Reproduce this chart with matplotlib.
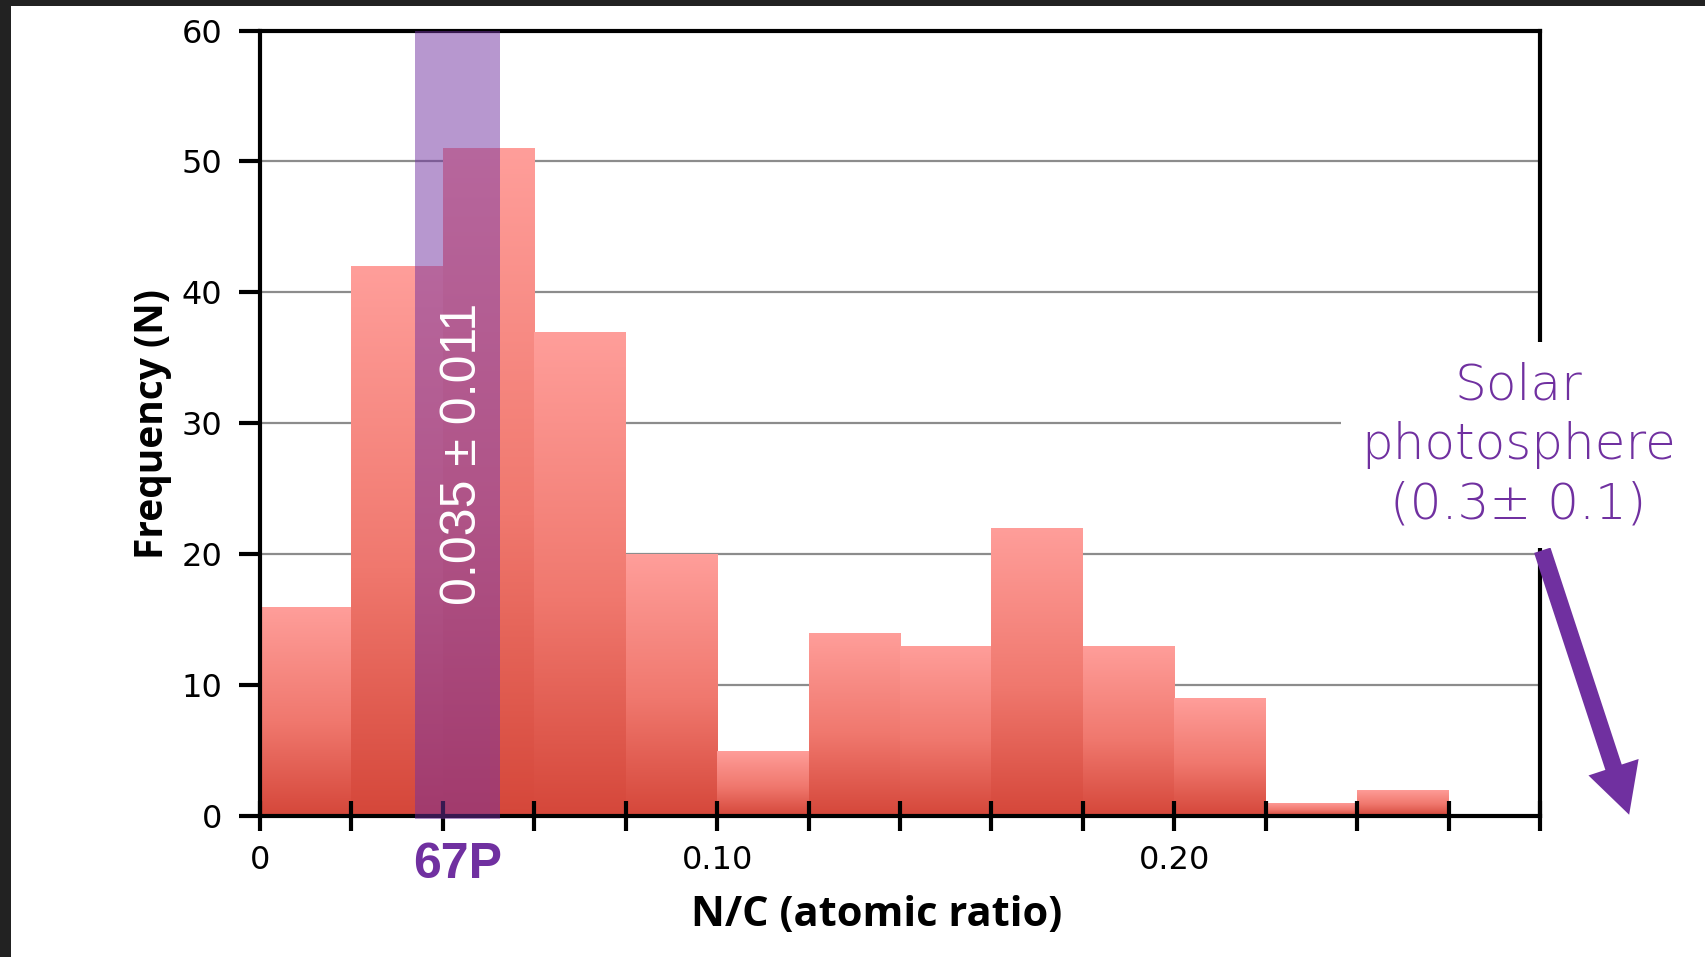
import numpy as np
import matplotlib
matplotlib.use("Agg")
import matplotlib.pyplot as plt
from matplotlib.colors import LinearSegmentedColormap
from matplotlib.patches import Rectangle

# ---- data ----
bin_edges = [0.00, 0.02, 0.04, 0.06, 0.08, 0.10, 0.12, 0.14, 0.16, 0.18, 0.20, 0.22, 0.24, 0.26, 0.28]
counts = [16, 42, 51, 37, 20, 5, 14, 13, 22, 13, 9, 1, 2, 0]
xtick_labels = {0.0: "0", 0.10: "0.10", 0.20: "0.20"}
yticks = [0, 10, 20, 30, 40, 50, 60]
band_lo, band_hi = 0.034, 0.0525          # 67P shaded band
band_text = "0.035 \u00b1 0.011"
band_label = "67P"
solar_text = "Solar\nphotosphere\n(0.3\u00b1 0.1)"
arrow_start = (0.2805, 20.3)
arrow_end = (0.2995, 0.1)

PURPLE = "#7030A0"

fig = plt.figure(figsize=(17.06, 9.57), dpi=100)
fig.patch.set_facecolor("#222222")
fig.patches.append(Rectangle((11 / 1706, 0), 1, 1 - 6 / 957, transform=fig.transFigure,
                             fc="white", ec="none", zorder=-10))

ax = fig.add_axes([0.1524, 0.1473, 0.7503, 0.8208])
ax.set_facecolor("none")

# gridlines
for y in yticks[1:-1]:
    ax.axhline(y, color="#8C8C8C", lw=1.6, zorder=0.5)

# bars with vertical gradient
cmap = LinearSegmentedColormap.from_list(
    "bar", [(0.0, "#D5473A"), (0.45, "#F0786E"), (1.0, "#FF9E9A")])
grad = np.linspace(0, 1, 256).reshape(-1, 1)
lefts = np.array(bin_edges[:-1])
widths = np.diff(bin_edges)
bars = ax.bar(lefts, counts, width=widths, align="edge", facecolor="none",
              edgecolor="none", zorder=1)
for b, c in zip(bars, counts):
    if c <= 0:
        continue
    x0, w, h = b.get_x(), b.get_width(), b.get_height()
    im = ax.imshow(grad, cmap=cmap, origin="lower", aspect="auto",
                   extent=[x0, x0 + w, 0, h], zorder=1, interpolation="bilinear")
    im.set_clip_path(b)

# 67P band
ax.axvspan(band_lo, band_hi, ymin=-0.004, ymax=1.0, color=PURPLE, alpha=0.5,
           lw=0, zorder=3, clip_on=False)
ax.text((band_lo + band_hi) / 2 + 0.0012, 27.7, band_text, rotation=90, color="white",
        ha="center", va="center", fontsize=36, family=["Liberation Sans", "DejaVu Sans"],
        zorder=4)

ax.set_xlim(bin_edges[0], bin_edges[-1])
ax.set_ylim(0, 60)

# spines
for s in ax.spines.values():
    s.set_linewidth(3)
    s.set_color("black")
    s.set_zorder(2.5)

# ticks
ax.set_xticks(bin_edges)
ax.set_xticklabels([xtick_labels.get(round(e, 2), "") for e in bin_edges])
ax.set_yticks(yticks)
ax.set_yticklabels([str(v) for v in yticks])
ax.tick_params(axis="x", direction="inout", length=22, width=3, pad=10, labelsize=23)
ax.tick_params(axis="y", direction="out", length=15, width=3, pad=12, labelsize=23)
ax.tick_params(top=False, right=False)

ax.text((band_lo + band_hi) / 2, -0.062, band_label, transform=ax.get_xaxis_transform(),
        ha="center", va="center", color=PURPLE, fontsize=36, fontweight="bold",
        family=["Liberation Sans Narrow", "Liberation Sans", "DejaVu Sans"])

ax.set_xlabel("N/C (atomic ratio)", fontsize=30, fontweight="bold", family="Open Sans")
ax.xaxis.set_label_coords(0.482, -0.100)
ax.set_ylabel("Frequency (N)", fontsize=28, fontweight="bold", family="Open Sans")
ax.yaxis.set_label_coords(-0.069, 0.499)

# Solar photosphere annotation
fig.text(0.890, 0.535, solar_text, ha="center", va="center", multialignment="center",
         color=PURPLE, fontsize=36, linespacing=1.3, fontweight="light",
         family="DejaVu Sans", zorder=5,
         bbox=dict(boxstyle="square,pad=0.4", fc="white", ec="none"))

ax.annotate("", xy=arrow_end, xytext=arrow_start, xycoords="data", textcoords="data",
            annotation_clip=False, zorder=6,
            arrowprops=dict(arrowstyle="simple,head_length=1.8,head_width=1.9,tail_width=0.62",
                            mutation_scale=20, fc=PURPLE, ec="none", shrinkA=0, shrinkB=0))

fig.savefig("out.png", dpi=100, facecolor=fig.get_facecolor())
